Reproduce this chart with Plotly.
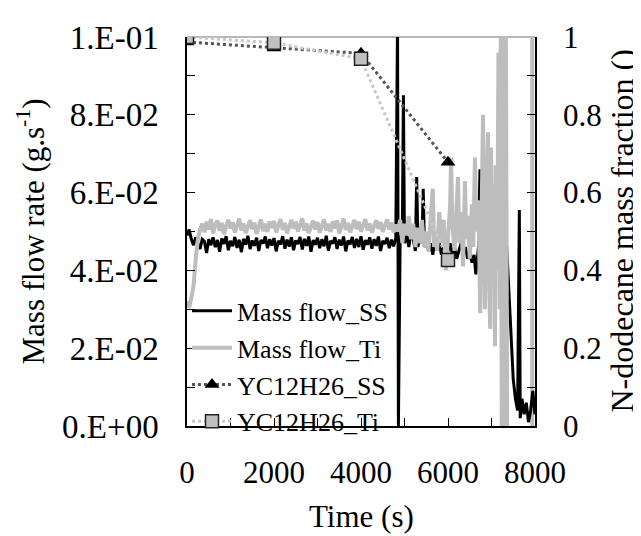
import plotly.graph_objects as go

# ---------------- data ----------------
t_ss = [0, 50, 100, 150, 200, 250, 300, 350, 400, 450, 500, 550, 600, 650, 700, 750, 800, 850, 900, 950,
        1000, 1050, 1100, 1150, 1200, 1250, 1300, 1350, 1400, 1450, 1500, 1550, 1600, 1650, 1700, 1750, 1800, 1850, 1900, 1950,
        2000, 2050, 2100, 2150, 2200, 2250, 2300, 2350, 2400, 2450, 2500, 2550, 2600, 2650, 2700, 2750, 2800, 2850, 2900, 2950,
        3000, 3050, 3100, 3150, 3200, 3250, 3300, 3350, 3400, 3450, 3500, 3550, 3600, 3650, 3700, 3750, 3800, 3850, 3900, 3950,
        4000, 4050, 4100, 4150, 4200, 4250, 4300, 4350, 4400, 4450, 4500, 4550, 4600, 4650, 4700, 4750, 4800,
        4840, 4860, 4900, 4950, 4975, 5000, 5050, 5100, 5150, 5200, 5250, 5280, 5310, 5350, 5400, 5430, 5460, 5500,
        5550, 5600, 5650, 5700, 5750, 5800, 5850, 5900, 5950, 6000, 6050, 6100, 6150, 6200, 6250, 6300, 6350, 6400,
        6450, 6500, 6550, 6600, 6640, 6700, 6735, 6760, 6800, 6850, 6900, 6950, 7000, 7050, 7100, 7150, 7200, 7250,
        7300, 7350, 7400, 7450, 7500, 7550, 7600, 7640, 7660, 7700, 7750, 7800, 7850, 7900, 7950, 8000]
mf_ss = [0.049, 0.0505, 0.048, 0.0465, 0.0485, 0.047, 0.0455, 0.048, 0.0475, 0.0445, 0.048, 0.0465, 0.0485, 0.046, 0.0478, 0.0448, 0.0482, 0.0468, 0.0488, 0.0452,
         0.0476, 0.0462, 0.0486, 0.0458, 0.0479, 0.0447, 0.0481, 0.0466, 0.0489, 0.0455, 0.0477, 0.0463, 0.0484, 0.0450, 0.0478, 0.0469, 0.0487, 0.0457, 0.0480, 0.0464,
         0.0483, 0.0449, 0.0476, 0.0467, 0.0488, 0.0456, 0.0479, 0.0461, 0.0485, 0.0452, 0.0477, 0.0468, 0.0486, 0.0454, 0.0481, 0.0463, 0.0487, 0.0448, 0.0478, 0.0466,
         0.0484, 0.0457, 0.0480, 0.0462, 0.0489, 0.0451, 0.0476, 0.0469, 0.0485, 0.0455, 0.0479, 0.0464, 0.0487, 0.0449, 0.0477, 0.0467, 0.0486, 0.0458, 0.0481, 0.0460,
         0.0488, 0.0453, 0.0478, 0.0466, 0.0485, 0.0456, 0.0480, 0.0463, 0.0487, 0.0450, 0.0476, 0.0468, 0.0484, 0.0457, 0.0479, 0.0462, 0.0483,
         0.104, 0.0, 0.048, 0.050, 0.085, 0.047, 0.049, 0.046, 0.050, 0.048, 0.045, 0.064, 0.046, 0.049, 0.047, 0.061, 0.046, 0.048,
         0.045, 0.047, 0.044, 0.048, 0.046, 0.047, 0.044, 0.046, 0.043, 0.045, 0.047, 0.044, 0.046, 0.043, 0.045, 0.047, 0.044, 0.046,
         0.043, 0.045, 0.042, 0.044, 0.039, 0.046, 0.066, 0.059, 0.048, 0.050, 0.047, 0.051, 0.048, 0.052, 0.049, 0.053, 0.050, 0.052,
         0.050, 0.046, 0.035, 0.022, 0.012, 0.007, 0.004, 0.0555, 0.002, 0.007, 0.003, 0.006, 0.001, 0.004, 0.009, 0.003]

t_ti = [0, 50, 100, 150, 200, 250, 300, 350, 400, 450, 500, 550, 600, 650, 700, 750, 800, 850, 900, 950,
        1000, 1050, 1100, 1150, 1200, 1250, 1300, 1350, 1400, 1450, 1500, 1550, 1600, 1650, 1700, 1750, 1800, 1850, 1900, 1950,
        2000, 2050, 2100, 2150, 2200, 2250, 2300, 2350, 2400, 2450, 2500, 2550, 2600, 2650, 2700, 2750, 2800, 2850, 2900, 2950,
        3000, 3050, 3100, 3150, 3200, 3250, 3300, 3350, 3400, 3450, 3500, 3550, 3600, 3650, 3700, 3750, 3800, 3850, 3900, 3950,
        4000, 4050, 4100, 4150, 4200, 4250, 4300, 4350, 4400, 4450, 4500, 4550, 4600, 4650, 4700, 4750, 4800,
        4850, 4900, 4950, 5000, 5050, 5100, 5150, 5200, 5250, 5300, 5350, 5400, 5450, 5500, 5550, 5600, 5650, 5680,
        5700, 5750, 5800, 5850, 5900, 5950, 6000, 6050, 6070, 6100, 6150, 6200, 6230, 6260, 6300, 6345, 6390, 6420,
        6460, 6500, 6550, 6580, 6620, 6650, 6700, 6740, 6770, 6805, 6830, 6850, 6880, 6920, 6950, 6970, 6990, 7020,
        7050, 7080, 7100, 7130, 7160, 7190, 7215, 7235, 7260, 7290, 7330, 7360]
mf_ti = [0.032, 0.0305, 0.033, 0.036, 0.043, 0.048, 0.0505, 0.052, 0.0498, 0.0525, 0.0505, 0.0532, 0.0495, 0.0518, 0.0528, 0.0502, 0.0522, 0.0493, 0.0515, 0.0530,
         0.0508, 0.0524, 0.0497, 0.0519, 0.0533, 0.0503, 0.0521, 0.0496, 0.0516, 0.0529, 0.0506, 0.0523, 0.0494, 0.0517, 0.0531, 0.0501, 0.0520, 0.0499, 0.0526, 0.0509,
         0.0527, 0.0498, 0.0518, 0.0532, 0.0504, 0.0522, 0.0495, 0.0514, 0.0530, 0.0507, 0.0525, 0.0500, 0.0519, 0.0534, 0.0502, 0.0521, 0.0496, 0.0517, 0.0528, 0.0505,
         0.0524, 0.0497, 0.0516, 0.0531, 0.0503, 0.0520, 0.0499, 0.0526, 0.0508, 0.0529, 0.0495, 0.0518, 0.0533, 0.0504, 0.0522, 0.0498, 0.0515, 0.0530, 0.0506, 0.0525,
         0.0500, 0.0519, 0.0532, 0.0503, 0.0521, 0.0497, 0.0517, 0.0529, 0.0507, 0.0524, 0.0499, 0.0520, 0.0531, 0.0505, 0.0523, 0.0498, 0.0518,
         0.050, 0.053, 0.047, 0.052, 0.049, 0.054, 0.048, 0.052, 0.046, 0.051, 0.047, 0.053, 0.046, 0.050, 0.045, 0.052, 0.061, 0.046,
         0.050, 0.045, 0.055, 0.047, 0.053, 0.040, 0.050, 0.057, 0.069, 0.052, 0.045, 0.058, 0.064, 0.047, 0.055, 0.041, 0.063, 0.048,
         0.054, 0.043, 0.057, 0.046, 0.069, 0.050, 0.058, 0.029, 0.055, 0.080, 0.045, 0.030, 0.060, 0.0755, 0.035, 0.025, 0.0716, 0.045,
         0.062, 0.0205, 0.067, 0.040, 0.096, 0.030, 0.106, 0.0, 0.106, 0.0, 0.106, 0.0]

t_y = [0, 2000, 4000, 6000]
y_ss = [0.987, 0.972, 0.958, 0.678]
y_ti = [1.0, 0.985, 0.944, 0.427]

x_ticks = [0, 1000, 2000, 3000, 4000, 5000, 6000, 7000, 8000]
x_text = ["0", "", "2000", "", "4000", "", "6000", "", "8000"]
y1_ticks = [0, 0.01, 0.02, 0.03, 0.04, 0.05, 0.06, 0.07, 0.08, 0.09, 0.1]
y1_text = ["0.E+00", "", "2.E-02", "", "4.E-02", "", "6.E-02", "", "8.E-02", "", "1.E-01"]
y2_ticks = [0, 0.1, 0.2, 0.3, 0.4, 0.5, 0.6, 0.7, 0.8, 0.9, 1.0]
y2_text = ["0", "", "0.2", "", "0.4", "", "0.6", "", "0.8", "", "1"]

FONT = "Liberation Serif"
FS = 31

fig = go.Figure()
fig.add_trace(go.Scatter(x=t_ss, y=mf_ss, mode="lines", name="Mass flow_SS",
                         line=dict(color="black", width=3)))
fig.add_trace(go.Scatter(x=t_ti, y=mf_ti, mode="lines", name="Mass flow_Ti",
                         line=dict(color="#bdbdbd", width=4)))
fig.add_trace(go.Scatter(x=t_y, y=y_ss, mode="lines+markers", name="YC12H26_SS", yaxis="y2",
                         line=dict(color="#555555", width=3, dash="dot"),
                         marker=dict(symbol="triangle-up", size=13, color="black")))
fig.add_trace(go.Scatter(x=t_y, y=y_ti, mode="lines+markers", name="YC12H26_Ti", yaxis="y2",
                         line=dict(color="#c8c8c8", width=3, dash="dot"),
                         marker=dict(symbol="square", size=13, color="#c0c0c0",
                                     line=dict(color="#222222", width=1.5))))

fig.update_layout(
    width=641, height=536,
    margin=dict(l=179, r=114, t=26, b=118),
    paper_bgcolor="white", plot_bgcolor="white",
    font=dict(family=FONT, size=FS, color="black"),
    showlegend=True,
    legend=dict(x=0, y=-0.05, xanchor="left", yanchor="bottom", bgcolor="rgba(0,0,0,0)",
                font=dict(size=26, family=FONT), itemwidth=40),
    xaxis=dict(range=[0, 8000], tickvals=x_ticks, ticktext=x_text, ticks="inside", ticklen=8,
               tickcolor="black", showline=True, linecolor="black", linewidth=1.5,
               showgrid=False, zeroline=False, ticklabelstandoff=18),
    yaxis=dict(range=[0, 0.1], tickvals=y1_ticks, ticktext=y1_text, ticks="inside", ticklen=8,
               tickcolor="black", showline=True, linecolor="black", linewidth=1.5,
               showgrid=False, zeroline=False, ticklabelstandoff=20, tickfont=dict(size=33)),
    yaxis2=dict(range=[0, 1], tickvals=y2_ticks, ticktext=y2_text, ticks="inside", ticklen=8,
                tickcolor="black", showline=True, linecolor="black", linewidth=1.5,
                overlaying="y", side="right", showgrid=False, zeroline=False, ticklabelstandoff=20),
    shapes=[
        dict(type="line", xref="paper", yref="paper", x0=0, x1=1, y0=1, y1=1,
             line=dict(color="#a0a0a0", width=1.5), layer="below"),
        dict(type="line", xref="paper", yref="paper", x0=0.992, x1=0.992, y0=0, y1=1,
             line=dict(color="#bdbdbd", width=4), layer="below"),
    ],
    annotations=[
        dict(text="Mass flow rate (g.s<sup>-1</sup>)", xref="paper", yref="paper", x=0, y=0.5,
             xshift=-156, textangle=-90, showarrow=False, font=dict(size=FS, family=FONT),
             xanchor="center", yanchor="middle"),
        dict(text="N-dodecane mass fraction ()", xref="paper", yref="paper", x=1, y=0.5,
             xshift=86, textangle=-90, showarrow=False, font=dict(size=32, family=FONT),
             xanchor="center", yanchor="middle"),
        dict(text="Time (s)", xref="paper", yref="paper", x=0.5, y=0, yshift=-90,
             showarrow=False, font=dict(size=FS, family=FONT), xanchor="center", yanchor="middle"),
    ],
)

fig.write_html("out.html")
